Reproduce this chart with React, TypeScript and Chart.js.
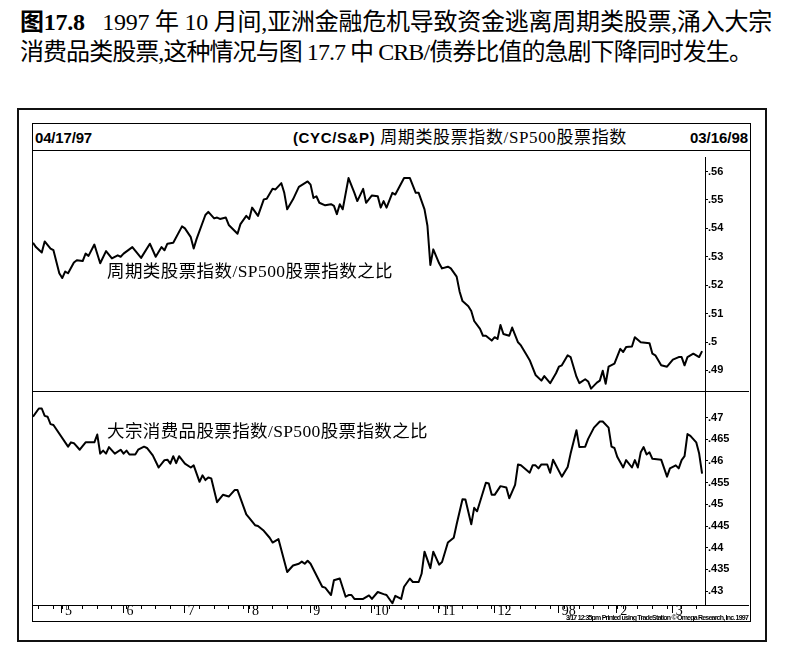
import React, { useEffect, useLayoutEffect, useRef } from 'react';
import { Chart, registerables } from 'chart.js';

Chart.register(...registerables);

// ---------- data (trading-day index from 04/17/97, ratio value) ----------
const CYC_DAYS = [0, 1, 3, 4, 6, 7, 9, 10, 11, 12, 14, 15, 17, 18, 19, 21, 23, 25, 27, 29, 30, 31, 34, 37, 40, 42, 44, 45, 46, 48, 51, 52, 54, 55, 56, 59, 60, 62, 63, 64, 66, 67, 70, 71, 73, 74, 75, 77, 79, 80, 82, 83, 85, 86, 87, 89, 91, 94, 95, 96, 97, 98, 100, 102, 103, 104, 105, 106, 108, 110, 111, 113, 114, 116, 118, 119, 120, 121, 123, 124, 127, 129, 131, 132, 134, 135, 136, 137, 139, 140, 142, 143, 145, 146, 147, 149, 150, 151, 153, 154, 155, 157, 158, 159, 160, 161, 163, 164, 166, 167, 169, 170, 172, 174, 175, 177, 179, 180, 181, 183, 184, 186, 187, 189, 190, 191, 193, 194, 195, 196, 197, 199, 201, 202, 203, 205, 206, 208, 211, 212, 213, 215, 217, 219, 221, 222, 223, 224, 226, 228, 229];
const CYC_VALUES = [0.5349, 0.5334, 0.5315, 0.5354, 0.5329, 0.5323, 0.5242, 0.5225, 0.5248, 0.5242, 0.528, 0.5288, 0.5285, 0.5311, 0.5303, 0.5343, 0.5277, 0.532, 0.5294, 0.5305, 0.53, 0.5311, 0.5334, 0.5296, 0.5346, 0.53, 0.5334, 0.5323, 0.5346, 0.5349, 0.5407, 0.54, 0.5369, 0.5329, 0.5363, 0.5447, 0.5458, 0.5435, 0.5438, 0.5433, 0.5438, 0.5412, 0.5381, 0.5415, 0.5444, 0.5433, 0.5473, 0.5444, 0.5502, 0.5504, 0.5539, 0.5537, 0.5559, 0.5525, 0.5467, 0.5502, 0.5546, 0.5565, 0.5554, 0.5507, 0.5513, 0.549, 0.5481, 0.5485, 0.5479, 0.545, 0.5485, 0.5467, 0.5577, 0.5525, 0.5496, 0.5539, 0.549, 0.5516, 0.5513, 0.5473, 0.5496, 0.5473, 0.5525, 0.5519, 0.5577, 0.5577, 0.5525, 0.5525, 0.5467, 0.5409, 0.5271, 0.5326, 0.5277, 0.5259, 0.5265, 0.5259, 0.523, 0.5178, 0.5144, 0.5126, 0.5109, 0.5074, 0.5046, 0.5022, 0.5022, 0.5005, 0.5017, 0.5011, 0.506, 0.5028, 0.5022, 0.5051, 0.4999, 0.4988, 0.4953, 0.4936, 0.4884, 0.4864, 0.488, 0.4855, 0.489, 0.4913, 0.4918, 0.4953, 0.4947, 0.4878, 0.4855, 0.4869, 0.4861, 0.4836, 0.4857, 0.4864, 0.4899, 0.4853, 0.4913, 0.4924, 0.4976, 0.4965, 0.4982, 0.4984, 0.5017, 0.4999, 0.4996, 0.4959, 0.4953, 0.4918, 0.4913, 0.4938, 0.4947, 0.4947, 0.4918, 0.4947, 0.4959, 0.4947, 0.4968];

const STAPLES_DAYS = [0, 2, 3, 4, 5, 6, 7, 12, 13, 14, 16, 18, 21, 22, 23, 24, 25, 26, 28, 30, 31, 32, 33, 35, 36, 38, 39, 41, 43, 45, 46, 47, 48, 49, 50, 52, 54, 55, 56, 57, 58, 59, 60, 61, 63, 65, 67, 69, 70, 73, 74, 76, 77, 79, 81, 82, 84, 87, 89, 91, 92, 93, 94, 95, 99, 100, 102, 103, 105, 107, 108, 109, 110, 113, 115, 116, 118, 120, 121, 123, 124, 126, 127, 129, 130, 132, 133, 134, 136, 137, 139, 140, 142, 144, 145, 147, 148, 150, 151, 152, 155, 156, 157, 158, 160, 162, 163, 165, 166, 167, 170, 171, 172, 173, 174, 176, 177, 178, 181, 183, 184, 186, 187, 189, 190, 192, 194, 195, 197, 198, 199, 200, 202, 203, 205, 206, 207, 208, 209, 210, 211, 212, 215, 217, 218, 220, 221, 222, 223, 224, 225, 227, 228, 229];
const STAPLES_VALUES = [0.4702, 0.4721, 0.4721, 0.4704, 0.4702, 0.4685, 0.4683, 0.4633, 0.4643, 0.4641, 0.4626, 0.4643, 0.4643, 0.4661, 0.4617, 0.4624, 0.4617, 0.4632, 0.4617, 0.4626, 0.4617, 0.4624, 0.4615, 0.4615, 0.4626, 0.4633, 0.463, 0.4613, 0.4585, 0.4602, 0.4603, 0.4594, 0.4611, 0.4595, 0.4611, 0.4594, 0.4585, 0.459, 0.4571, 0.4552, 0.4567, 0.4556, 0.4562, 0.456, 0.4505, 0.4522, 0.4518, 0.4533, 0.4533, 0.4477, 0.4469, 0.4452, 0.445, 0.4439, 0.4423, 0.4412, 0.442, 0.4344, 0.4359, 0.4363, 0.4368, 0.4363, 0.437, 0.4363, 0.431, 0.4308, 0.4291, 0.4325, 0.4329, 0.4287, 0.4291, 0.4291, 0.4282, 0.4282, 0.429, 0.4282, 0.4298, 0.4293, 0.4291, 0.4272, 0.4289, 0.4282, 0.431, 0.4329, 0.4321, 0.4321, 0.434, 0.4391, 0.4353, 0.4391, 0.4361, 0.4367, 0.4412, 0.4423, 0.4454, 0.4512, 0.4511, 0.4454, 0.4492, 0.4484, 0.455, 0.4548, 0.4522, 0.4522, 0.4542, 0.4539, 0.4514, 0.4545, 0.4592, 0.459, 0.4573, 0.459, 0.459, 0.4583, 0.4592, 0.4592, 0.4573, 0.4603, 0.4564, 0.4586, 0.4617, 0.4671, 0.4632, 0.4633, 0.4651, 0.4677, 0.4691, 0.4691, 0.4677, 0.4633, 0.463, 0.4609, 0.4585, 0.4602, 0.4585, 0.4602, 0.4585, 0.462, 0.4632, 0.4615, 0.462, 0.4605, 0.4603, 0.4564, 0.4583, 0.459, 0.4583, 0.4602, 0.4611, 0.4662, 0.4658, 0.4643, 0.4617, 0.4571];

const MONTH_STARTS = [10, 31, 52, 74, 95, 116, 139, 158, 180, 200, 219];
const MONTH_LABELS = ['5', '6', '7', '8', '9', '10', '11', '12', '98', '2', '3'];
const UPPER_TICKS = [0.49, 0.5, 0.51, 0.52, 0.53, 0.54, 0.55, 0.56];
const LOWER_TICKS = [0.43, 0.435, 0.44, 0.445, 0.45, 0.455, 0.46, 0.465, 0.47];
const X_MAX = 230;

const weekTicks: number[] = [];
for (let d = 2; d < X_MAX; d += 5) weekTicks.push(d);
const X_TICKS = Array.from(new Set([...weekTicks, ...MONTH_STARTS])).sort((a, b) => a - b);

const fmt = (v: number) => String(Number(Number(v).toFixed(3))).replace(/^0/, '');

const SERIF = '"Liberation Serif", "Noto Sans CJK SC", serif';
const SANS = '"Liberation Sans", Arial, "Noto Sans CJK SC", sans-serif';

function FitText(props: { left: number; cy: number; width: number; size: number; style?: React.CSSProperties; children: React.ReactNode }) {
  const ref = useRef<HTMLDivElement>(null);
  const { left, cy, width, size, style, children } = props;
  useLayoutEffect(() => {
    const el = ref.current;
    if (!el) return;
    const fit = () => {
      el.style.letterSpacing = '0px';
      const w = el.getBoundingClientRect().width;
      const n = (el.textContent || '').length;
      if (n > 0) el.style.letterSpacing = (width - w) / n + 'px';
    };
    fit();
    const fonts = (document as any).fonts;
    if (fonts && fonts.ready) fonts.ready.then(fit);
  }, [width]);
  const lh = Math.round(size * 1.25);
  return (
    <div
      ref={ref}
      style={{
        position: 'absolute',
        left,
        top: cy - lh / 2,
        fontSize: size,
        lineHeight: lh + 'px',
        whiteSpace: 'pre',
        color: '#000',
        ...style,
      }}
    >
      {children}
    </div>
  );
}

const framePlugin = {
  id: 'frameLines',
  afterDraw(chart: any) {
    const { ctx, width } = chart;
    const x = chart.scales.x;
    const y1 = chart.scales.y1;
    ctx.save();
    ctx.strokeStyle = '#000';
    ctx.lineWidth = 1;
    const sy = Math.round(y1.bottom) + 0.5;
    ctx.beginPath();
    ctx.moveTo(0, sy);
    ctx.lineTo(width, sy);
    const ay = Math.round(x.top) + 0.5;
    ctx.moveTo(0, ay);
    ctx.lineTo(width, ay);
    MONTH_STARTS.forEach((m) => {
      const px = Math.round(x.getPixelForValue(m)) - 0.5;
      ctx.moveTo(px, x.top);
      ctx.lineTo(px, x.top + 8);
    });
    ctx.stroke();
    ctx.restore();
  },
};

function RatioChart() {
  const canvasRef = useRef<HTMLCanvasElement>(null);
  useEffect(() => {
    const canvas = canvasRef.current;
    if (!canvas) return;
    const tickFont = { family: SANS, size: 11, weight: 'bold' as const };
    const yCommon = (ticks: number[]) => ({
      type: 'linear' as const,
      position: 'right' as const,
      stack: 'panels',
      afterBuildTicks: (s: any) => {
        s.ticks = ticks.map((v) => ({ value: v }));
      },
      afterFit: (s: any) => {
        s.width = 44;
      },
      grid: { drawOnChartArea: false, drawTicks: true, tickLength: 3, color: '#000', lineWidth: 1 },
      border: { display: true, color: '#000', width: 1 },
      ticks: { padding: 0, color: '#000', font: tickFont, autoSkip: false, callback: (v: any) => fmt(v) },
    });
    const chart = new Chart(canvas, {
      type: 'line',
      data: {
        datasets: [
          {
            label: 'CYC/S&P',
            data: CYC_DAYS.map((d, i) => ({ x: d, y: CYC_VALUES[i] })),
            yAxisID: 'y1',
            borderColor: '#000',
            borderWidth: 2,
            pointRadius: 0,
            tension: 0,
            borderJoinStyle: 'round',
          },
          {
            label: 'Staples/S&P',
            data: STAPLES_DAYS.map((d, i) => ({ x: d, y: STAPLES_VALUES[i] })),
            yAxisID: 'y2',
            borderColor: '#000',
            borderWidth: 2,
            pointRadius: 0,
            tension: 0,
            borderJoinStyle: 'round',
          },
        ],
      },
      options: {
        animation: false,
        responsive: false,
        events: [],
        layout: { padding: 0 },
        plugins: { legend: { display: false }, tooltip: { enabled: false }, title: { display: false } },
        scales: {
          x: {
            type: 'linear',
            position: 'bottom',
            min: 0,
            max: X_MAX,
            afterBuildTicks: (s: any) => {
              s.ticks = X_TICKS.map((v) => ({ value: v }));
            },
            afterFit: (s: any) => {
              s.height = 16;
            },
            grid: { drawOnChartArea: false, drawTicks: true, tickLength: 4, color: '#000', lineWidth: 1 },
            border: { display: true, color: '#000', width: 1 },
            ticks: {
              autoSkip: false,
              maxRotation: 0,
              minRotation: 0,
              align: 'start',
              padding: -6,
              color: '#000',
              font: { family: '"Liberation Serif", serif', size: 14 },
              callback: (v: any) => {
                const i = MONTH_STARTS.indexOf(Number(v));
                return i >= 0 ? '\u2009' + MONTH_LABELS[i] : '';
              },
            },
          },
          y1: { ...yCommon(UPPER_TICKS), stackWeight: 237, min: 0.4827, max: 0.5649 },
          y2: { ...yCommon(LOWER_TICKS), stackWeight: 217, min: 0.4268, max: 0.4761 },
        } as any,
      },
      plugins: [framePlugin],
    } as any);
    return () => chart.destroy();
  }, []);
  return (
    <canvas
      ref={canvasRef}
      width={716}
      height={470}
      style={{ position: 'absolute', left: 33, top: 151, width: 716, height: 470 }}
    />
  );
}

export default function App() {
  return (
    <div style={{ position: 'absolute', left: 0, top: 0, width: 788, height: 654, background: '#fff', overflow: 'hidden' }}>
      <FitText left={20} cy={20} width={752} size={24} style={{ fontFamily: SERIF }}>
        <span style={{ fontFamily: '"Noto Sans CJK SC", sans-serif', fontWeight: 'bold' }}>图</span>
        <span style={{ fontWeight: 'bold' }}>17.8</span>
        {'   1997 年 10 月间,亚洲金融危机导致资金逃离周期类股票,涌入大宗'}
      </FitText>
      <FitText left={20} cy={52} width={732} size={24} style={{ fontFamily: SERIF }}>
        {'消费品类股票,这种情况与图 17.7 中 CRB/债券比值的急剧下降同时发生。'}
      </FitText>

      {/* outer frame */}
      <div style={{ position: 'absolute', left: 17, top: 108, width: 750, height: 534, border: '2px solid #111', boxSizing: 'border-box' }} />
      {/* inner chart box */}
      <div style={{ position: 'absolute', left: 32, top: 123, width: 719, height: 499, border: '1px solid #000', boxSizing: 'border-box' }} />
      <div style={{ position: 'absolute', left: 32, top: 150, width: 719, height: 1, background: '#000' }} />

      <FitText left={35} cy={137} width={57} size={15} style={{ fontFamily: SANS, fontWeight: 'bold' }}>
        04/17/97
      </FitText>
      <FitText left={293} cy={137} width={334} size={17} style={{ fontFamily: SERIF }}>
        <span style={{ fontFamily: SANS, fontWeight: 'bold', fontSize: 15 }}>(CYC/S&amp;P)</span>
        {' 周期类股票指数/SP500股票指数'}
      </FitText>
      <FitText left={690} cy={137} width={58} size={15} style={{ fontFamily: SANS, fontWeight: 'bold' }}>
        03/16/98
      </FitText>

      <RatioChart />

      <FitText left={107} cy={271} width={286} size={17.5} style={{ fontFamily: SERIF }}>
        周期类股票指数/SP500股票指数之比
      </FitText>
      <FitText left={107} cy={431} width={321} size={17.5} style={{ fontFamily: SERIF }}>
        大宗消费品股票指数/SP500股票指数之比
      </FitText>
      <FitText left={566} cy={617.5} width={182} size={7} style={{ fontFamily: SANS, fontWeight: 'bold' }}>
        3/17 12:35pm Printed using TradeStation © Omega Research, Inc. 1997
      </FitText>
    </div>
  );
}
